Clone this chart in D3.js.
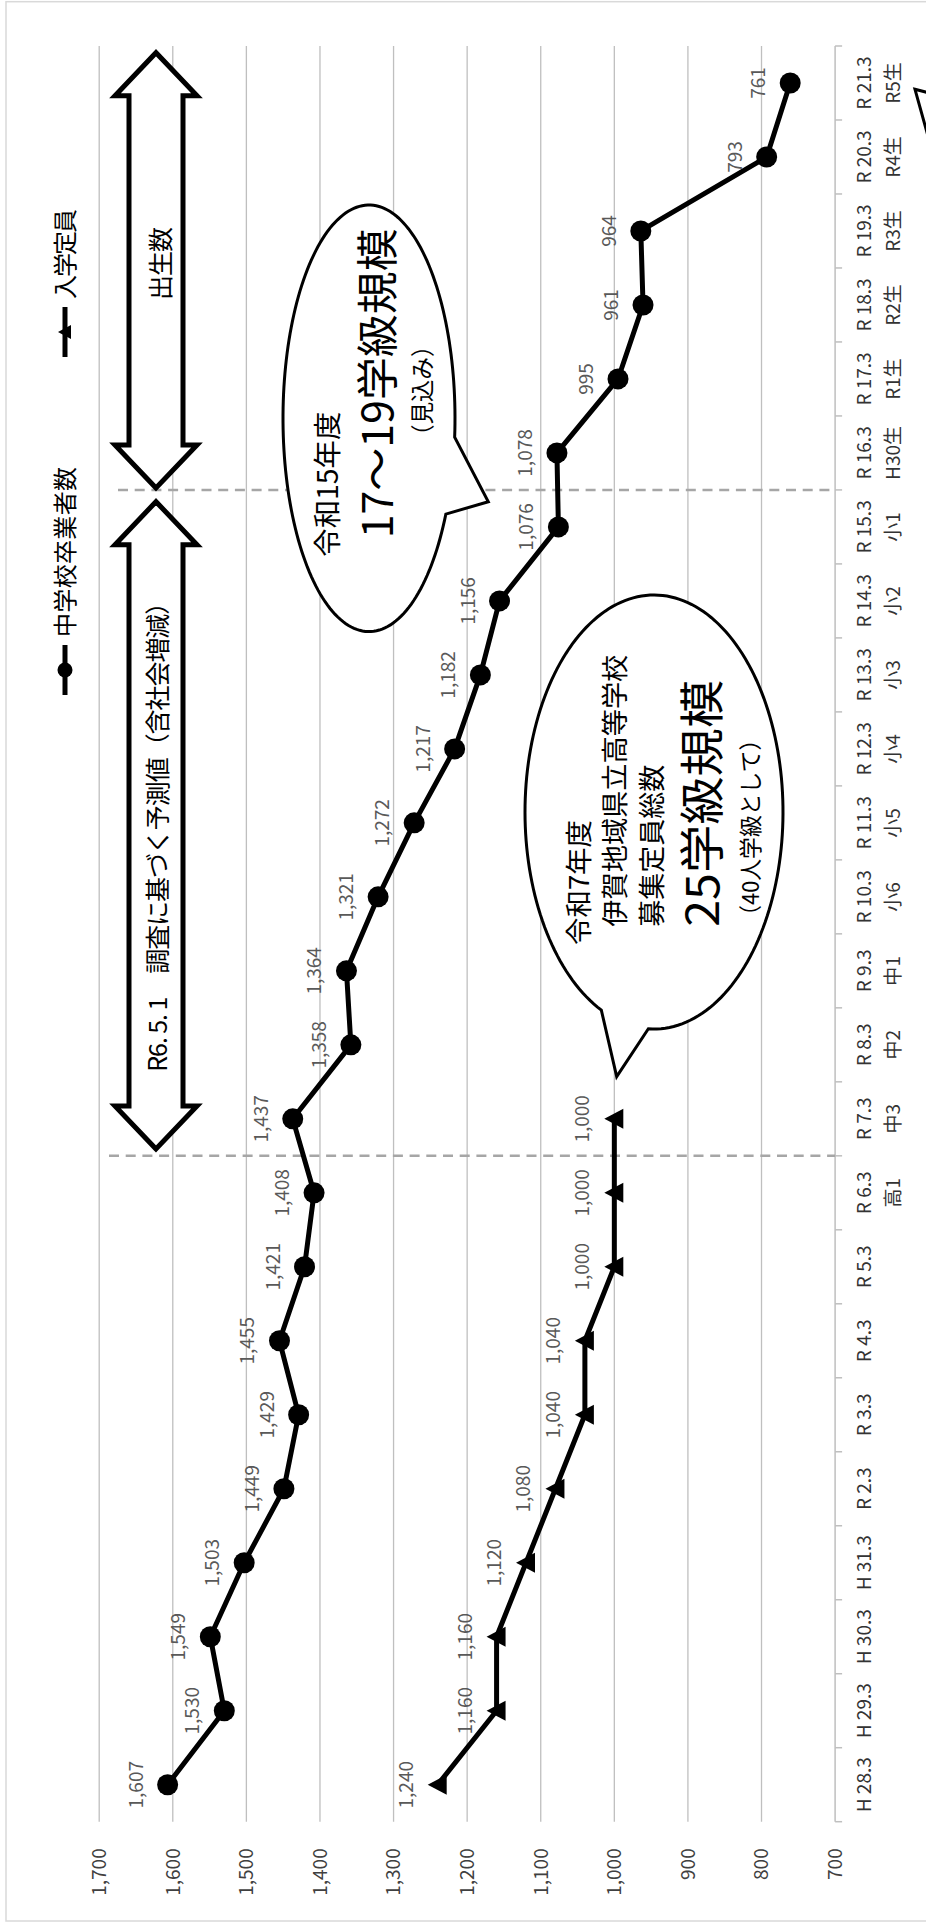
<!DOCTYPE html>
<html>
<head>
<meta charset="utf-8">
<script src="https://cdn.jsdelivr.net/npm/d3@7"></script>
<style>
  body { margin: 0; background: #fff; }
  svg { display: block; }
  text { font-family: "Noto Sans CJK JP", "Noto Sans", sans-serif; }
</style>
</head>
<body>
<svg id="chart" width="926" height="1922"></svg>
<script>
// data
var categories = ["H 28.3", "H 29.3", "H 30.3", "H 31.3", "R 2.3", "R 3.3", "R 4.3", "R 5.3",
    "R 6.3", "R 7.3", "R 8.3", "R 9.3", "R 10.3", "R 11.3", "R 12.3", "R 13.3", "R 14.3",
    "R 15.3", "R 16.3", "R 17.3", "R 18.3", "R 19.3", "R 20.3", "R 21.3"];
var subLabels = ["", "", "", "", "", "", "", "", "高1", "中3", "中2", "中1", "小6", "小5",
    "小4", "小3", "小2", "小1", "H30生", "R1生", "R2生", "R3生", "R4生", "R5生"];
var graduates = [1607, 1530, 1549, 1503, 1449, 1429, 1455, 1421, 1408, 1437, 1358, 1364,
    1321, 1272, 1217, 1182, 1156, 1076, 1078, 995, 961, 964, 793, 761];
var capacity = [1240, 1160, 1160, 1120, 1080, 1040, 1040, 1000, 1000, 1000, null, null,
    null, null, null, null, null, null, null, null, null, null, null, null];
var valueTicks = [700, 800, 900, 1000, 1100, 1200, 1300, 1400, 1500, 1600, 1700];
var seriesNames = ["中学校卒業者数", "入学定員"];

// the chart is laid out unrotated (1922 wide, 926 tall) and turned -90deg
var svg = d3.select("#chart");
var g = svg.append("g").attr("transform", "translate(0,1922) rotate(-90)");

var plotLeft = 100.3, plotRight = 1876, plotTop = 99.2, plotBottom = 835.1;

var x = d3.scaleBand().domain(categories).range([plotLeft, plotRight]);
var y = d3.scaleLinear().domain([700, 1700]).range([plotBottom, plotTop]);
var bw = x.bandwidth();
var fmt = d3.format(",");

// outer frame
g.append("rect")
    .attr("x", 1).attr("y", 6).attr("width", 1919.3).attr("height", 960)
    .attr("fill", "#fff").attr("stroke", "#d9d9d9").attr("stroke-width", 1.5);

// gridlines
g.selectAll(".grid").data(valueTicks.filter(function (d) { return d > 700; }))
    .enter().append("line")
    .attr("x1", plotLeft).attr("x2", plotRight)
    .attr("y1", function (d) { return y(d); }).attr("y2", function (d) { return y(d); })
    .attr("stroke", "#bfbfbf").attr("stroke-width", 1.3);

// value labels
g.selectAll(".vlab").data(valueTicks).enter().append("text")
    .attr("x", plotLeft - 26.6).attr("y", function (d) { return y(d); })
    .attr("dy", "0.36em").attr("text-anchor", "end")
    .attr("font-size", 19).attr("fill", "#404040")
    .text(function (d) { return fmt(d); });

// category axis
g.append("line")
    .attr("x1", plotLeft).attr("x2", plotRight)
    .attr("y1", y(700)).attr("y2", y(700))
    .attr("stroke", "#bfbfbf").attr("stroke-width", 1.5);
var bounds = categories.map(function (c) { return x(c); }).concat([plotRight]);
g.selectAll(".tick").data(bounds).enter().append("line")
    .attr("x1", function (d) { return d; }).attr("x2", function (d) { return d; })
    .attr("y1", y(700)).attr("y2", y(700) + 7)
    .attr("stroke", "#bfbfbf").attr("stroke-width", 1.5);
g.selectAll(".clab").data(categories).enter().append("text")
    .attr("x", function (d) { return x(d) + bw / 2; }).attr("y", 871)
    .attr("text-anchor", "middle").attr("font-size", 19).attr("fill", "#333")
    .text(function (d) { return d; });
g.selectAll(".slab").data(categories).enter().append("text")
    .attr("x", function (d) { return x(d) + bw / 2; }).attr("y", 900)
    .attr("text-anchor", "middle").attr("font-size", 19).attr("fill", "#333")
    .text(function (d, i) { return subLabels[i]; });

// dashed separators
[[9, 109], [18, 118]].forEach(function (s) {
    var xx = x(categories[s[0]]);
    g.append("line")
        .attr("x1", xx).attr("x2", xx).attr("y1", s[1]).attr("y2", plotBottom)
        .attr("stroke", "#a6a6a6").attr("stroke-width", 2.5)
        .attr("stroke-dasharray", "10,6.7");
});

// series
var line = d3.line()
    .defined(function (d) { return d.v != null; })
    .x(function (d) { return x(d.c) + bw / 2; })
    .y(function (d) { return y(d.v); });

var gradData = categories.map(function (c, i) { return { c: c, v: graduates[i] }; });
var capData = categories.map(function (c, i) { return { c: c, v: capacity[i] }; });

g.append("path").attr("d", line(capData))
    .attr("fill", "none").attr("stroke", "#000").attr("stroke-width", 5).attr("stroke-linejoin", "round");
g.append("path").attr("d", line(gradData))
    .attr("fill", "none").attr("stroke", "#000").attr("stroke-width", 5).attr("stroke-linejoin", "round");

var tri = "M0,-10L10,9L-10,9Z";
g.selectAll(".tri").data(capData.filter(function (d) { return d.v != null; }))
    .enter().append("path")
    .attr("d", tri)
    .attr("transform", function (d) { return "translate(" + (x(d.c) + bw / 2) + "," + y(d.v) + ")"; })
    .attr("fill", "#000");
g.selectAll(".dot").data(gradData).enter().append("circle")
    .attr("cx", function (d) { return x(d.c) + bw / 2; })
    .attr("cy", function (d) { return y(d.v); })
    .attr("r", 10.5).attr("fill", "#000");

// data labels
g.selectAll(".dlab").data(gradData.concat(capData.filter(function (d) { return d.v != null; })))
    .enter().append("text")
    .attr("x", function (d) { return x(d.c) + bw / 2; })
    .attr("y", function (d) { return y(d.v) - 25; })
    .attr("text-anchor", "middle").attr("font-size", 19).attr("fill", "#595959")
    .text(function (d) { return fmt(d.v); });

// legend
var legendX = [1227, 1565];
seriesNames.forEach(function (name, i) {
    var lx = legendX[i], ly = 65;
    g.append("line").attr("x1", lx).attr("x2", lx + 50).attr("y1", ly).attr("y2", ly)
        .attr("stroke", "#000").attr("stroke-width", 5);
    if (i === 0) {
        g.append("circle").attr("cx", lx + 25).attr("cy", ly).attr("r", 7.5).attr("fill", "#000");
    } else {
        g.append("path").attr("d", "M0,-7L7,6L-7,6Z")
            .attr("transform", "translate(" + (lx + 25) + "," + ly + ")").attr("fill", "#000");
    }
    g.append("text").attr("x", lx + 58).attr("y", ly + 9)
        .attr("font-size", 24).attr("fill", "#000")
        .attr("textLength", i === 0 ? 170 : 90).attr("lengthAdjust", "spacing")
        .text(name);
});

// double-headed block arrows
function blockArrow(x0, x1, cy) {
    var hl = 43, hh = 41, sh = 27;
    return "M" + x0 + "," + cy +
        "L" + (x0 + hl) + "," + (cy - hh) + "L" + (x0 + hl) + "," + (cy - sh) +
        "L" + (x1 - hl) + "," + (cy - sh) + "L" + (x1 - hl) + "," + (cy - hh) +
        "L" + x1 + "," + cy +
        "L" + (x1 - hl) + "," + (cy + hh) + "L" + (x1 - hl) + "," + (cy + sh) +
        "L" + (x0 + hl) + "," + (cy + sh) + "L" + (x0 + hl) + "," + (cy + hh) + "Z";
}
g.append("path").attr("d", blockArrow(773, 1420.3, 156))
    .attr("fill", "#fff").attr("stroke", "#000").attr("stroke-width", 5);
g.append("path").attr("d", blockArrow(1434, 1869.3, 156))
    .attr("fill", "#fff").attr("stroke", "#000").attr("stroke-width", 5);
g.append("text").attr("x", 850.3).attr("y", 167).attr("font-size", 25)
    .attr("textLength", 482).attr("lengthAdjust", "spacing")
    .text("R6. 5. 1　調査に基づく予測値（含社会増減）");
g.append("text").attr("x", 1622).attr("y", 170).attr("font-size", 25)
    .attr("textLength", 73).attr("lengthAdjust", "spacing")
    .text("出生数");

// speech bubbles
function bubble(cx, cy, rx, ry, tip, b1, b2) {
    var gap = b2 - b1, dir = gap > 0 ? 1 : -1, pts = [];
    var end = b1 + dir * 360, steps = 180;
    pts.push(tip);
    for (var k = 0; k <= steps; k++) {
        var t = (b2 + (end - b2) * k / steps) * Math.PI / 180;
        pts.push([cx + rx * Math.cos(t), cy + ry * Math.sin(t)]);
    }
    return d3.line().curve(d3.curveLinearClosed)(pts);
}
g.append("path").attr("d", bubble(1503.7, 369, 213.3, 86, [1420.3, 488.3], 95.1, 116.7))
    .attr("fill", "#fff").attr("stroke", "#000").attr("stroke-width", 3);
g.append("path").attr("d", bubble(1110, 654, 217, 129, [845.3, 616.7], 204.1, 182.5))
    .attr("fill", "#fff").attr("stroke", "#000").attr("stroke-width", 3);
// tail of a bubble lying outside the picture
g.append("path").attr("d", "M1832.7,915L1827.6,935L1760.7,935Z")
    .attr("fill", "#fff").attr("stroke", "#000").attr("stroke-width", 3);

var bubbleText = [
    [1365.3, 338, 28, 145, "令和15年度"],
    [1383.7, 393, 42, 310, "17～19学級規模"],
    [1475.3, 431, 24, 112, "（見込み）"],
    [977, 589, 27, 125, "令和7年度"],
    [995.3, 625, 27, 272, "伊賀地域県立高等学校"],
    [995.3, 662, 27, 162, "募集定員総数"],
    [995.3, 719, 45, 247, "25学級規模"],
    [995.3, 759, 23, 198, "（40人学級として）"]
];
bubbleText.forEach(function (t) {
    g.append("text").attr("x", t[0]).attr("y", t[1]).attr("font-size", t[2])
        .attr("textLength", t[3]).attr("lengthAdjust", "spacingAndGlyphs")
        .attr("fill", "#000").text(t[4]);
});
</script>
</body>
</html>
